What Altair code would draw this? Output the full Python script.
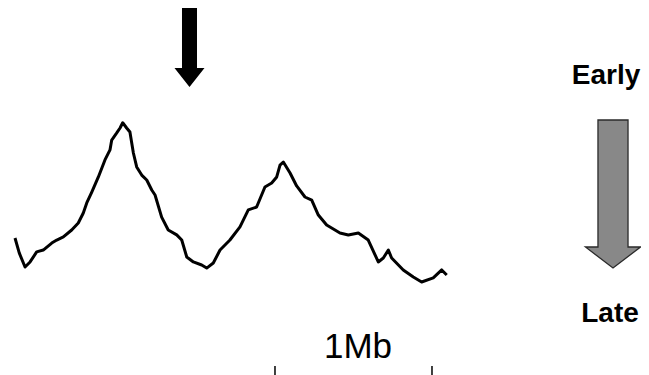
import altair as alt
import pandas as pd

# Replication-timing profile (position in Mb, relative timing: high = early)
position_mb = [0.000, 0.027, 0.064, 0.096, 0.138, 0.180, 0.234, 0.266, 0.308, 0.361,
               0.403, 0.435, 0.457, 0.489, 0.531, 0.573, 0.605, 0.616, 0.648, 0.669,
               0.686, 0.711, 0.732, 0.754, 0.775, 0.807, 0.839, 0.871, 0.892, 0.934,
               0.976, 1.030, 1.062, 1.094, 1.136, 1.189, 1.221, 1.263, 1.306, 1.369,
               1.433, 1.486, 1.539, 1.592, 1.635, 1.667, 1.688, 1.709, 1.752, 1.794,
               1.847, 1.890, 1.932, 1.985, 2.070, 2.123, 2.187, 2.250, 2.314, 2.346,
               2.378, 2.399, 2.473, 2.537, 2.590, 2.664, 2.718, 2.750]
timing = [0.306, 0.218, 0.135, 0.165, 0.224, 0.235, 0.276, 0.294, 0.312, 0.353,
          0.394, 0.453, 0.512, 0.576, 0.665, 0.765, 0.824, 0.882, 0.924, 0.953,
          0.984, 0.953, 0.929, 0.806, 0.724, 0.676, 0.647, 0.588, 0.559, 0.429,
          0.353, 0.324, 0.294, 0.194, 0.165, 0.147, 0.129, 0.159, 0.235, 0.294,
          0.371, 0.471, 0.488, 0.606, 0.629, 0.665, 0.735, 0.753, 0.688, 0.612,
          0.547, 0.529, 0.441, 0.382, 0.335, 0.324, 0.335, 0.294, 0.165, 0.188,
          0.235, 0.188, 0.118, 0.076, 0.047, 0.071, 0.118, 0.088]

scale_bar_mb = [1.656, 2.656]   # 1 Mb scale bar
scale_label = "1Mb"
early_label = "Early"
late_label = "Late"

W, H = 633, 367
x_scale = alt.Scale(domain=[-0.0446, 3.9873], nice=False, zero=False)
y_scale = alt.Scale(domain=[-0.5, 1.6588], nice=False, zero=False)

df = pd.DataFrame({"pos": position_mb, "timing": timing})
bar_df = pd.DataFrame({"pos": scale_bar_mb})
one = pd.DataFrame({"k": [0]})

line = alt.Chart(df).mark_line(color="black", strokeWidth=3, strokeJoin="round").encode(
    x=alt.X("pos:Q", scale=x_scale, axis=None),
    y=alt.Y("timing:Q", scale=y_scale, axis=None),
)

black_arrow = alt.Chart(one).mark_point(
    shape="M-0.19,-1L0.19,-1L0.19,0.52L0.38,0.52L0,1L-0.38,0.52L-0.19,0.52Z",
    filled=True, fill="black", stroke=None, opacity=1, size=6241,
).encode(x=alt.value(181.5), y=alt.value(39.5))

gray_arrow = alt.Chart(one).mark_point(
    shape="M-0.203,-1L0.203,-1L0.203,0.716L0.372,0.716L0,1L-0.372,0.716L-0.203,0.716Z",
    filled=True, fill="#888888", stroke="#2a2a2a", strokeWidth=1.3, opacity=1, size=21904,
).encode(x=alt.value(605), y=alt.value(186))

early = alt.Chart(one).mark_text(
    text=early_label, font="Liberation Sans", fontWeight="bold", fontSize=28,
    align="center", baseline="alphabetic", color="black",
).encode(x=alt.value(598), y=alt.value(76))

late = alt.Chart(one).mark_text(
    text=late_label, font="Liberation Sans", fontWeight="bold", fontSize=28,
    align="center", baseline="alphabetic", color="black",
).encode(x=alt.value(602), y=alt.value(314))

bar_ticks = alt.Chart(bar_df).mark_rule(color="black", strokeWidth=1.5).encode(
    x=alt.X("pos:Q", scale=x_scale, axis=None),
    y=alt.value(358), y2=alt.value(367),
)

mb_text = alt.Chart(one).mark_text(
    text=scale_label, font="Liberation Sans", fontSize=35,
    align="center", baseline="alphabetic", color="black",
).encode(x=alt.value(350), y=alt.value(350))

chart = alt.layer(line, black_arrow, gray_arrow, early, late, bar_ticks, mb_text).properties(
    width=W, height=H, padding=0, autosize=alt.AutoSizeParams(type="none"),
    background="white",
).configure_view(stroke=None)

chart.save("out.html", embed_options={"renderer": "svg", "actions": False})
